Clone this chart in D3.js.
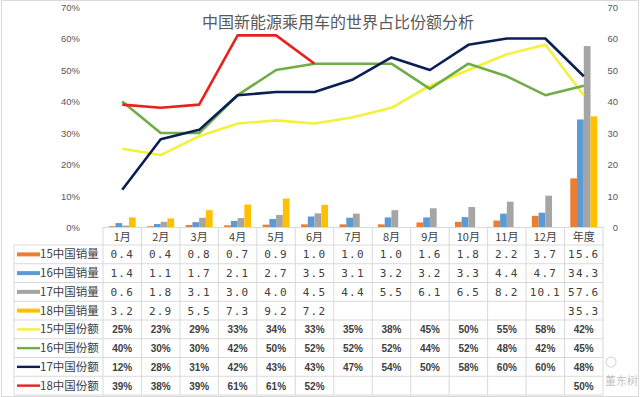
<!DOCTYPE html>
<html>
<head>
<meta charset="utf-8">
<script src="https://cdn.jsdelivr.net/npm/d3@7/dist/d3.min.js"></script>
<style>
  body { margin: 0; background: #fff; }
  svg text { font-family: "Noto Sans CJK SC", "Noto Sans", sans-serif; }
</style>
</head>
<body>
<div id="chart"></div>
<script>
var months = ["1月","2月","3月","4月","5月","6月","7月","8月","9月","10月","11月","12月","年度"];

// 销量 (万辆)
var sales15 = [0.4, 0.4, 0.8, 0.7, 0.9, 1.0, 1.0, 1.0, 1.6, 1.8, 2.2, 3.7, 15.6];
var sales16 = [1.4, 1.1, 1.7, 2.1, 2.7, 3.5, 3.1, 3.2, 3.2, 3.3, 4.4, 4.7, 34.3];
var sales17 = [0.6, 1.8, 3.1, 3.0, 4.0, 4.5, 4.4, 5.5, 6.1, 6.5, 8.2, 10.1, 57.6];
var sales18 = [3.2, 2.9, 5.5, 7.3, 9.2, 7.2, null, null, null, null, null, null, 35.3];

// 份额 (%)
var share15 = [25, 23, 29, 33, 34, 33, 35, 38, 45, 50, 55, 58, 42];
var share16 = [40, 30, 30, 42, 50, 52, 52, 52, 44, 52, 48, 42, 45];
var share17 = [12, 28, 31, 42, 43, 43, 47, 54, 50, 58, 60, 60, 48];
var share18 = [39, 38, 39, 61, 61, 52, null, null, null, null, null, null, 50];
var share18Line = [39, 38, 39, 61, 61, 52];

var leftTicks = [0, 10, 20, 30, 40, 50, 60, 70];

var width = 640, height = 397;
var x0 = 103, x1 = 603, yTop = 7, yBot = 227.5;
var rowTop = 245, rowH = 18.75;

var svg = d3.select("#chart").append("svg")
  .attr("width", width).attr("height", height);

// chart border
svg.append("rect")
  .attr("x", 1.5).attr("y", 0.5).attr("width", 637).attr("height", 396)
  .attr("fill", "#fff").attr("stroke", "#d9d9d9");

var x = d3.scaleBand().domain(months).range([x0, x1]);
var yl = d3.scaleLinear().domain([0, 0.7]).range([yBot, yTop]);
var yr = d3.scaleLinear().domain([0, 70]).range([yBot, yTop]);

var barSeries = [
  {name: "15中国销量", values: sales15, color: "#ED7D31"},
  {name: "16中国销量", values: sales16, color: "#5B9BD5"},
  {name: "17中国销量", values: sales17, color: "#A5A5A5"},
  {name: "18中国销量", values: sales18, color: "#FFC000"}
];
var lineSeries = [
  {name: "15中国份额", values: share15, color: "#F2F23A"},
  {name: "16中国份额", values: share16, color: "#70AD47"},
  {name: "17中国份额", values: share17, color: "#0B1F55"},
  {name: "18中国份额", values: share18, color: "#E8211E", line: share18Line}
];

// left axis
var axL = svg.append("g").attr("transform", "translate(80,0)")
  .call(d3.axisLeft(yl).tickValues(leftTicks.map(function(d){ return d / 100; }))
    .tickFormat(d3.format(".0%")).tickSize(0).tickPadding(0));
axL.select(".domain").remove();
axL.selectAll("text").attr("fill", "#595959").style("font-size", "9.5px")
  .style("font-family", "Liberation Sans, Arial, sans-serif");

// right axis
var axR = svg.append("g").attr("transform", "translate(618,0)")
  .call(d3.axisLeft(yr).tickValues(leftTicks).tickSize(0).tickPadding(0));
axR.select(".domain").remove();
axR.selectAll("text").attr("fill", "#595959").style("font-size", "9.5px")
  .style("font-family", "Liberation Sans, Arial, sans-serif");

// bars
var inner = d3.scaleBand().domain(d3.range(4)).range([0, x.bandwidth() * 0.7]);
var off = x.bandwidth() * 0.15;
barSeries.forEach(function(s, si){
  svg.append("g").selectAll("rect")
    .data(s.values.map(function(v, i){ return {m: months[i], v: v}; })
      .filter(function(d){ return d.v != null; }))
    .enter().append("rect")
    .attr("x", function(d){ return x(d.m) + off + inner(si); })
    .attr("width", inner.bandwidth())
    .attr("y", function(d){ return yr(d.v); })
    .attr("height", function(d){ return yBot - yr(d.v); })
    .attr("fill", s.color);
});

// lines
var line = d3.line()
  .x(function(d){ return x(d.m) + x.bandwidth() / 2; })
  .y(function(d){ return yl(d.v / 100); });
lineSeries.forEach(function(s){
  var vals = s.line || s.values;
  svg.append("path")
    .datum(vals.map(function(v, i){ return {m: months[i], v: v}; }))
    .attr("d", line)
    .attr("fill", "none")
    .attr("stroke", s.color)
    .attr("stroke-width", 2.6)
    .attr("stroke-linejoin", "round");
});

// title
svg.append("text")
  .attr("x", 338).attr("y", 28)
  .attr("text-anchor", "middle")
  .attr("fill", "#595959")
  .style("font-size", "16px")
  .text("中国新能源乘用车的世界占比份额分析");

// data table
var grid = svg.append("g").attr("stroke", "#d9d9d9").attr("stroke-width", 1);
var nRows = 8;
var tBot = rowTop + nRows * rowH;
grid.append("line").attr("x1", x0).attr("x2", x1).attr("y1", yBot).attr("y2", yBot);
d3.range(nRows + 1).forEach(function(r){
  grid.append("line").attr("x1", 14).attr("x2", x1)
    .attr("y1", rowTop + r * rowH).attr("y2", rowTop + r * rowH);
});
grid.append("line").attr("x1", 14).attr("x2", 14).attr("y1", rowTop).attr("y2", tBot);
months.forEach(function(m){
  grid.append("line").attr("x1", x(m)).attr("x2", x(m)).attr("y1", yBot).attr("y2", tBot);
});
grid.append("line").attr("x1", x1).attr("x2", x1).attr("y1", yBot).attr("y2", tBot);

// header
svg.append("g").selectAll("text").data(months).enter().append("text")
  .attr("x", function(d){ return x(d) + x.bandwidth() / 2; })
  .attr("y", 241)
  .attr("text-anchor", "middle")
  .attr("fill", "#404040")
  .style("font-size", "11px")
  .text(function(d){ return d; });

var rows = barSeries.map(function(s){ return {s: s, type: "bar"}; })
  .concat(lineSeries.map(function(s){ return {s: s, type: "line"}; }));

rows.forEach(function(r, ri){
  var cy = rowTop + ri * rowH + rowH / 2;
  if (r.type === "bar") {
    svg.append("rect").attr("x", 17).attr("y", cy - 2).attr("width", 23).attr("height", 4)
      .attr("fill", r.s.color);
  } else {
    svg.append("line").attr("x1", 17).attr("x2", 40).attr("y1", cy).attr("y2", cy)
      .attr("stroke", r.s.color).attr("stroke-width", 2.4);
  }
  svg.append("text").attr("x", 40).attr("y", cy + 4)
    .attr("fill", "#404040").style("font-size", "11.5px")
    .text(r.s.name);
  svg.append("g").selectAll("text")
    .data(r.s.values.map(function(v, i){ return {m: months[i], v: v}; })
      .filter(function(d){ return d.v != null; }))
    .enter().append("text")
    .attr("x", function(d){ return x(d.m) + x.bandwidth() / 2; })
    .attr("y", cy + 4)
    .attr("text-anchor", "middle")
    .attr("fill", "#404040")
    .style("font-size", r.type === "bar" ? "11px" : "10px")
    .style("letter-spacing", r.type === "bar" ? "1.2px" : "0px")
    .style("font-family", r.type === "bar" ? "DejaVu Sans Mono, monospace" : "Liberation Sans, Arial, sans-serif")
    .style("font-weight", r.type === "bar" ? "normal" : "bold")
    .text(function(d){ return r.type === "bar" ? d3.format(".1f")(d.v) : d.v + "%"; });
});

// watermark (kept right of the table so it does not cover values)
var wm = svg.append("g").attr("opacity", 0.6);
wm.append("circle").attr("cx", 611).attr("cy", 362).attr("r", 5)
  .attr("fill", "none").attr("stroke", "#bbb").attr("stroke-width", 1.1);
wm.append("text").attr("x", 605).attr("y", 385)
  .attr("fill", "#999").style("font-size", "11px")
  .text("董东树");
</script>
</body>
</html>
